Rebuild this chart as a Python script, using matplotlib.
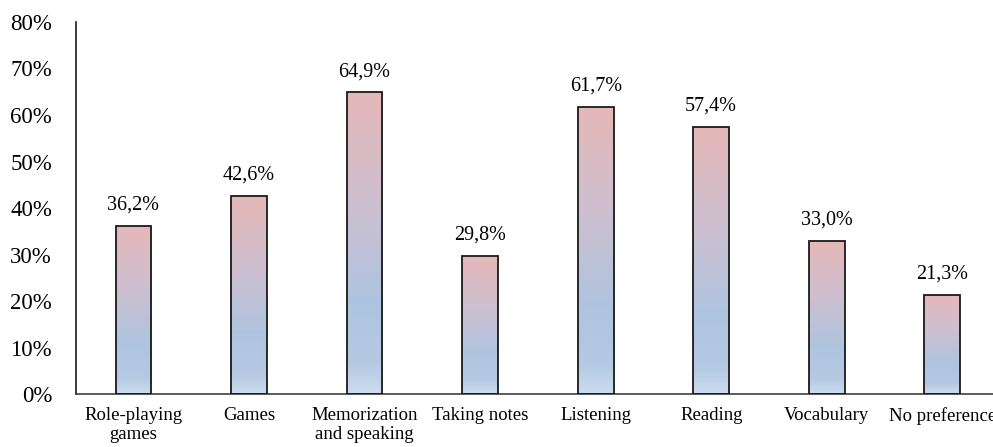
import numpy as np
import matplotlib.pyplot as plt
from matplotlib.colors import LinearSegmentedColormap
from matplotlib.ticker import FuncFormatter

categories = ['Role-playing\ngames', 'Games', 'Memorization\nand speaking',
              'Taking notes', 'Listening', 'Reading', 'Vocabulary', 'No preference']
values = [36.2, 42.6, 64.9, 29.8, 61.7, 57.4, 33.0, 21.3]
value_labels = ['36,2%', '42,6%', '64,9%', '29,8%', '61,7%', '57,4%', '33,0%', '21,3%']

plt.rcParams['font.family'] = ['Liberation Serif', 'DejaVu Serif']

grad = LinearSegmentedColormap.from_list(
    'bar_grad',
    [(0.0, '#cddcee'), (0.1, '#b5c9e3'), (0.3, '#afc4df'),
     (0.65, '#cfbfcf'), (1.0, '#e6b8b8')])

fig = plt.figure(figsize=(9.93, 4.47), dpi=100)
ax = fig.add_axes([0.0762, 0.118, 0.931, 0.833])

x = np.arange(len(categories))
bar_width = 0.31
bars = ax.bar(x, values, bar_width, facecolor='none', edgecolor='#1a1a1a',
              linewidth=1.3, zorder=3)

g = np.linspace(0, 1, 256).reshape(-1, 1)
for rect in bars:
    x0 = rect.get_x()
    h = rect.get_height()
    im = ax.imshow(g, cmap=grad, origin='lower', aspect='auto',
                   extent=(x0, x0 + rect.get_width(), 0, h), zorder=2)
    im.set_clip_path(rect)

for xi, v, lab in zip(x, values, value_labels):
    ax.annotate(lab, (xi, v), xytext=(0, 8), textcoords='offset points',
                ha='center', va='bottom', fontsize=14.5)

ax.set_xlim(-0.5, len(categories) - 0.5)
ax.set_ylim(0, 80)
ax.set_yticks(np.arange(0, 81, 10))
ax.yaxis.set_major_formatter(FuncFormatter(lambda v, p: f'{v:.0f}%'))
ax.set_xticks(x)
ax.set_xticklabels(categories, fontsize=13.5, linespacing=1.2)
ax.tick_params(axis='y', length=0, pad=17, labelsize=16.5)
ax.tick_params(axis='x', length=0, pad=9)

for s in ['top', 'right']:
    ax.spines[s].set_visible(False)
ax.spines['left'].set_color('#1a1a1a')
ax.spines['bottom'].set_color('#404040')
ax.spines['left'].set_linewidth(1.2)
ax.spines['bottom'].set_linewidth(1.2)

fig.savefig('out.png', dpi=100)
